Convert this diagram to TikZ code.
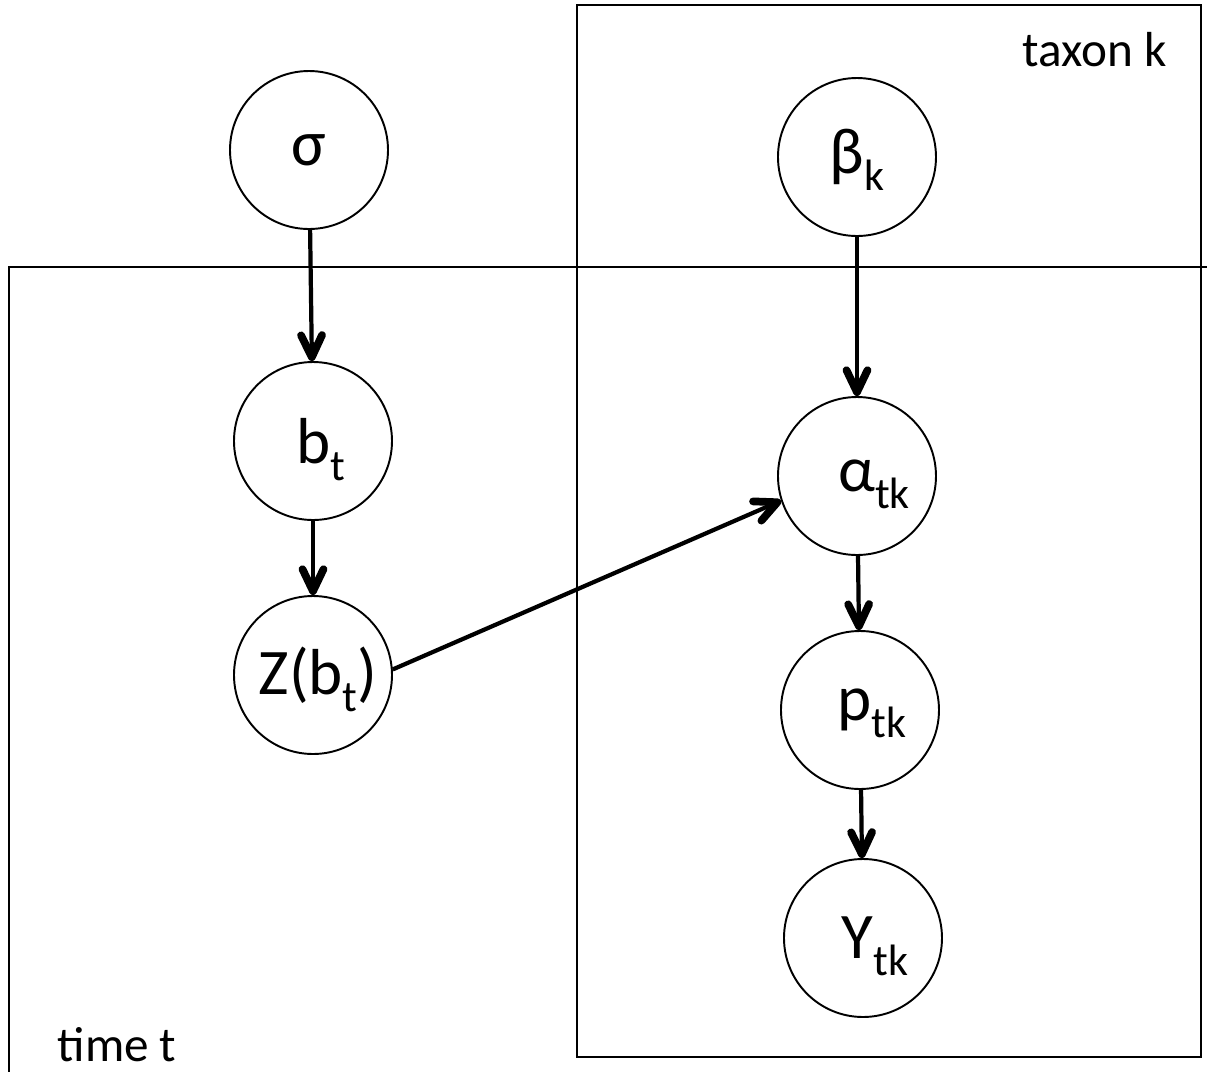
\documentclass[tikz,border=0pt]{standalone}
\usepackage{fontspec}
\setmainfont{Carlito}
\usetikzlibrary{arrows.meta}
\tikzset{
    var/.style={circle, draw, line width=0.55pt, minimum size=15.8mm, inner sep=0pt,
        font=\fontsize{18.5}{22}\selectfont},
    nudge/.style={execute at begin node={\hspace*{#1}}},
    plate/.style={draw, line width=0.5pt},
    platelabel/.style={font=\fontsize{14}{17}\selectfont},
    arrow/.style={-{Straight Barb[length=2.2mm, width=2.1mm, line width=2.2pt, round]}, line width=1.2pt}
}
\newcommand{\sub}[1]{\raisebox{-0.26em}[0pt][0pt]{\fontsize{12.5}{14}\selectfont #1}}

\begin{document}
\begin{tikzpicture}[x=0.1mm, y=-0.1mm]

    \clip (0,0) rectangle (1207,1072);

    \draw[plate] (577,5) rectangle (1201,1057);
    \draw[plate] (9,267) rectangle (1230,1100);
    \node[platelabel] (taxon) at (1095,50) {taxon k};
    \node[platelabel] (time) at (117,1045) {time t};

    \node[var] (sigma) at (309,150) {σ};
    \node[var, nudge=1.6mm] (bt) at (313,441) {b\sub{t}};
    \node[var, nudge=1mm] (zbt) at (313,675) {Z(b\sub{t})};

    \node[var] (beta) at (857,157) {β\sub{k}};
    \node[var, nudge=3.4mm] (alpha) at (857,476) {α\sub{tk}};
    \node[var, nudge=2.4mm] (ptk) at (860,710) {p\sub{tk}};
    \node[var, nudge=2.4mm] (ytk) at (863,938) {Y\sub{tk}};

    \draw[arrow] (sigma) -- (bt);
    \draw[arrow] (bt) -- (zbt);
    \draw[arrow] (beta) -- (alpha);
    \draw[arrow] (alpha) -- (ptk);
    \draw[arrow] (ptk) -- (ytk);
    \draw[arrow] (zbt.4) -- (alpha.198);

\end{tikzpicture}
\end{document}
